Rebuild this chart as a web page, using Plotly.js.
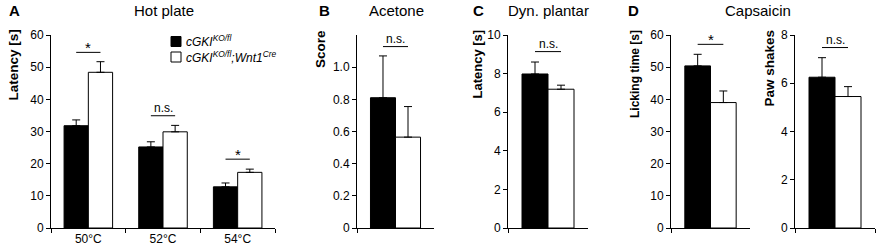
<!DOCTYPE html>
<html>
<head>
<meta charset="utf-8">
<script src="https://cdn.plot.ly/plotly-3.0.1.min.js"></script>
<style>html,body{margin:0;padding:0;background:#fff;}#chart{width:882px;height:249px;}</style>
</head>
<body>
<div id="chart"></div>
<script>
// ---- Data ----
var tempCats = ["50°C", "52°C", "54°C"];
var hotKO = [31.8, 25.2, 12.8];
var hotKOErr = [1.8, 1.6, 1.2];
var hotCre = [48.4, 29.9, 17.3];
var hotCreErr = [3.3, 2.0, 1.0];
var hotSigY = [54.6, 34.9, 21.4];
var hotSigLabels = ["*", "n.s.", "*"];

var acetoneCat = ["Acetone"];
var acetoneKO = [0.81];
var acetoneKOErr = [0.26];
var acetoneCre = [0.565];
var acetoneCreErr = [0.19];

var plantarCat = ["Dyn. plantar"];
var plantarKO = [7.98];
var plantarKOErr = [0.62];
var plantarCre = [7.19];
var plantarCreErr = [0.21];

var lickCat = ["Licking time"];
var lickKO = [50.4];
var lickKOErr = [3.6];
var lickCre = [39.0];
var lickCreErr = [3.6];

var shakeCat = ["Paw shakes"];
var shakeKO = [6.25];
var shakeKOErr = [0.81];
var shakeCre = [5.45];
var shakeCreErr = [0.41];

var singleSigY = [1.128, 9.14, 57.1, 7.48];
var singleSigLabels = ["n.s.", "n.s.", "*", "n.s."];

var seriesNames = ["cGKI<sup>KO/fl</sup>", "cGKI<sup>KO/fl</sup>;Wnt1<sup>Cre</sup>"];

var panelLetters = ["A", "B", "C", "D"];
var panelTitles = ["Hot plate", "Acetone", "Dyn. plantar", "Capsaicin"];
var yTitles = ["Latency [s]", "Score", "Latency [s]", "Licking time [s]", "Paw shakes"];

var acetoneTickVals = [0, 0.2, 0.4, 0.6, 0.8, 1.0];
var acetoneTickText = ["0", "0.2", "0.4", "0.6", "0.8", "1.0"];

// ---- Layout helpers (pixels -> paper) ----
var W = 882, H = 249;
function px(p) { return p / W; }
function py(p) { return 1 - p / H; }

var FONT = "Liberation Sans, Arial, Helvetica, sans-serif";
var BARGAP = 0.35;
var halfOff = (1 - BARGAP) / 4;

function zeros(a) { return a.map(function () { return 0; }); }

function pair(xs, ko, koErr, cre, creErr, xa, ya) {
  var eb = function (arr) {
    return { type: "data", symmetric: false, array: arr, arrayminus: zeros(arr),
             color: "#000", thickness: 1, width: 4 };
  };
  return [
    { type: "bar", x: xs, y: ko, name: seriesNames[0], xaxis: xa, yaxis: ya,
      marker: { color: "#000", line: { color: "#000", width: 1 } },
      error_y: eb(koErr), showlegend: false, hoverinfo: "skip" },
    { type: "bar", x: xs, y: cre, name: seriesNames[1], xaxis: xa, yaxis: ya,
      marker: { color: "#fff", line: { color: "#000", width: 1 } },
      error_y: eb(creErr), showlegend: false, hoverinfo: "skip" }
  ];
}

var data = [].concat(
  pair(tempCats, hotKO, hotKOErr, hotCre, hotCreErr, "x", "y"),
  pair(acetoneCat, acetoneKO, acetoneKOErr, acetoneCre, acetoneCreErr, "x2", "y2"),
  pair(plantarCat, plantarKO, plantarKOErr, plantarCre, plantarCreErr, "x3", "y3"),
  pair(lickCat, lickKO, lickKOErr, lickCre, lickCreErr, "x4", "y4"),
  pair(shakeCat, shakeKO, shakeKOErr, shakeCre, shakeCreErr, "x5", "y5")
);

var yDom = [py(228), py(35)];
var xDoms = [[51, 275], [357, 434], [508, 588], [671, 750], [795, 875]];

function xAxis(i, showLabels, ncat) {
  return {
    domain: [px(xDoms[i][0]), px(xDoms[i][1])],
    anchor: i === 0 ? "y" : "y" + (i + 1),
    type: "category", range: [-0.5, ncat - 0.5],
    showline: true, linecolor: "#000", linewidth: 1,
    ticks: "outside", tickson: "boundaries", ticklen: 4, tickcolor: "#000", tickwidth: 1,
    showgrid: false, zeroline: false, showticklabels: showLabels,
    tickfont: { family: FONT, size: 12, color: "#000" }, fixedrange: true
  };
}
function yAxis(i, range, dtick, extra) {
  var a = {
    domain: yDom, anchor: i === 0 ? "x" : "x" + (i + 1),
    range: range, dtick: dtick, tick0: 0,
    showline: true, linecolor: "#000", linewidth: 1,
    ticks: "outside", ticklen: 4, tickcolor: "#000", tickwidth: 1,
    showgrid: false, zeroline: false,
    tickfont: { family: FONT, size: 12, color: "#000" }, fixedrange: true
  };
  for (var k in extra) a[k] = extra[k];
  return a;
}

var shapes = [], annotations = [];

function sig(xref, yref, xpos, yval, label) {
  shapes.push({ type: "line", xref: xref, yref: yref, x0: xpos - halfOff, x1: xpos + halfOff,
                y0: yval, y1: yval, line: { color: "#000", width: 1 } });
  var star = label === "*";
  annotations.push({ xref: xref, yref: yref, x: xpos, y: yval, text: label, showarrow: false,
                     xanchor: "center", yanchor: "bottom", yshift: star ? -6 : -1,
                     font: { family: FONT, size: star ? 15 : 12, color: "#000" } });
}
hotSigY.forEach(function (v, i) { sig("x", "y", i, v, hotSigLabels[i]); });
singleSigY.forEach(function (v, i) { sig("x" + (i + 2), "y" + (i + 2), 0, v, singleSigLabels[i]); });

// panel letters and titles
var letterX = [14, 324, 478, 633];
var titleX = [164, 396, 548, 758];
panelLetters.forEach(function (t, i) {
  annotations.push({ xref: "paper", yref: "paper", x: px(letterX[i]), y: py(10), text: "<b>" + t + "</b>",
                     showarrow: false, xanchor: "center", yanchor: "middle",
                     font: { family: FONT, size: 15, color: "#000" } });
  annotations.push({ xref: "paper", yref: "paper", x: px(titleX[i]), y: py(10), text: panelTitles[i],
                     showarrow: false, xanchor: "center", yanchor: "middle",
                     font: { family: FONT, size: 15, color: "#000" } });
});

// rotated y titles
var yTitleX = [13, 321, 477, 635, 769];
var yTitleSize = [13.5, 13.5, 13, 12, 13.5];
yTitles.forEach(function (t, i) {
  annotations.push({ xref: "paper", yref: "paper", x: px(yTitleX[i]), y: py(28), text: "<b>" + t + "</b>",
                     textangle: -90, showarrow: false, xanchor: "center", yanchor: "top",
                     font: { family: FONT, size: yTitleSize[i], color: "#000" } });
});

// legend (manual)
var legY = [41.5, 57];
seriesNames.forEach(function (t, i) {
  shapes.push({ type: "rect", xref: "paper", yref: "paper",
                x0: px(171), x1: px(181), y0: py(legY[i] + 5), y1: py(legY[i] - 5),
                fillcolor: i === 0 ? "#000" : "#fff", line: { color: "#000", width: 1 } });
  annotations.push({ xref: "paper", yref: "paper", x: px(184), y: py(legY[i]), text: "<i>" + t + "</i>",
                     showarrow: false, xanchor: "left", yanchor: "middle",
                     font: { family: FONT, size: 12, color: "#000" } });
});

var layout = {
  width: W, height: H,
  margin: { l: 0, r: 0, t: 0, b: 0 },
  paper_bgcolor: "#fff", plot_bgcolor: "rgba(0,0,0,0)",
  barmode: "group", bargap: BARGAP, bargroupgap: 0,
  showlegend: false,
  font: { family: FONT, size: 12, color: "#000" },
  xaxis: xAxis(0, true, 3),
  xaxis2: xAxis(1, false, 1),
  xaxis3: xAxis(2, false, 1),
  xaxis4: xAxis(3, false, 1),
  xaxis5: xAxis(4, false, 1),
  yaxis: yAxis(0, [0, 60], 10, {}),
  yaxis2: yAxis(1, [0, 1.2], 0.2, { tickmode: "array", tickvals: acetoneTickVals, ticktext: acetoneTickText }),
  yaxis3: yAxis(2, [0, 10], 2, {}),
  yaxis4: yAxis(3, [0, 60], 10, {}),
  yaxis5: yAxis(4, [0, 8], 2, {}),
  shapes: shapes,
  annotations: annotations
};

Plotly.newPlot("chart", data, layout, { staticPlot: true, displayModeBar: false });
</script>
</body>
</html>
